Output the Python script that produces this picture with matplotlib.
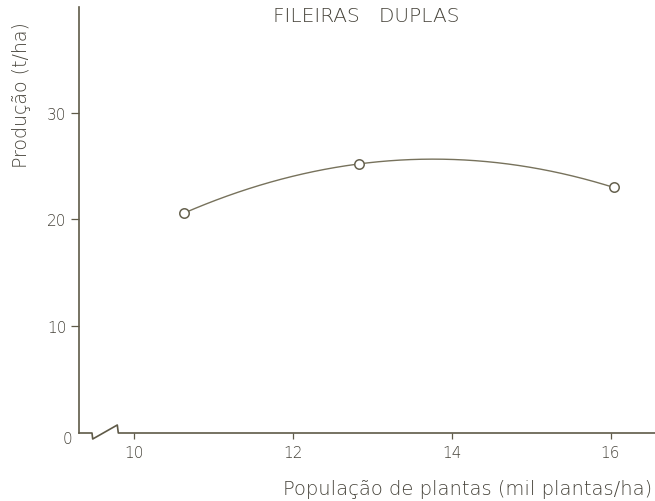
import numpy as np
import matplotlib
matplotlib.use("Agg")
import matplotlib.pyplot as plt
from matplotlib.lines import Line2D

# Data
populacao = [10.63, 12.83, 16.04]      # mil plantas/ha
producao = [20.6, 25.2, 23.0]          # t/ha
xticks = [10, 12, 14, 16]
yticks = [10, 20, 30]

ink = "#5f5a48"
txt = "#46433a"

plt.rcParams['font.family'] = ['DejaVu Sans']

fig = plt.figure(figsize=(6.55, 5.02), dpi=100)
ax = fig.add_axes([79/655, 1 - 434/502, 1 - 79/655, (434 - 8)/502])

# fitted curve (quadratic through the observed points)
coef = np.polyfit(populacao, producao, 2)
xs = np.linspace(populacao[0], populacao[-1], 200)
ax.plot(xs, np.polyval(coef, xs), color="#77725c", lw=1.0, zorder=2)
ax.plot(populacao, producao, 'o', ms=6.8, mfc='white', mec="#66624f", mew=1.1, zorder=3)

ax.set_xlim(9.307, 16.56)
ax.set_ylim(0, 39.9)

for s in ['top', 'right']:
    ax.spines[s].set_visible(False)
ax.spines['bottom'].set_visible(False)
ax.spines['left'].set_color(ink)
ax.spines['left'].set_linewidth(1.2)

# bottom axis with break
trans = ax.transAxes
W = 655 - 79
H = 434 - 8
def fx(px):
    return (px - 79) / W
def fy(py):
    return (434 - py) / H
brk_x = [79, 92, 92.7, 117.3, 118.3, 655]
brk_y = [434, 434, 440, 426, 434, 434]
ax.add_line(Line2D([fx(v) for v in brk_x], [fy(v) for v in brk_y], transform=trans,
                   color=ink, lw=1.2, clip_on=False))

ax.set_xticks(xticks)
ax.set_xticklabels([str(v) for v in xticks])
ax.set_yticks(yticks)
ax.set_yticklabels([str(v) for v in yticks])
ax.tick_params(axis='x', direction='out', length=4, width=0.9, color=ink, labelcolor=txt,
               labelsize=11, pad=5)
ax.tick_params(axis='y', direction='out', length=6, width=0.9, color=ink, labelcolor=txt,
               labelsize=11, pad=3)
for lab in ax.get_xticklabels() + ax.get_yticklabels():
    lab.set_fontweight('light')

ax.text(fx(67.5), fy(440), "0", transform=trans, ha='center', va='center',
        fontsize=11, color=txt, fontweight='light', clip_on=False)

fig.text(366/655, 1 - 16/502, "FILEIRAS   DUPLAS", ha='center', va='center',
         fontsize=14.5, color=txt, fontweight='light')
fig.text(652/655, 1 - 490/502, "População de plantas (mil plantas/ha)", ha='right', va='center',
         fontsize=14, color=txt, fontweight='light')
fig.text(22/655, 1 - 95/502, "Produção (t/ha)", ha='center', va='center', rotation=90,
         fontsize=13.7, color=txt, fontweight='light')

fig.savefig("out.png", dpi=100, facecolor='white')
